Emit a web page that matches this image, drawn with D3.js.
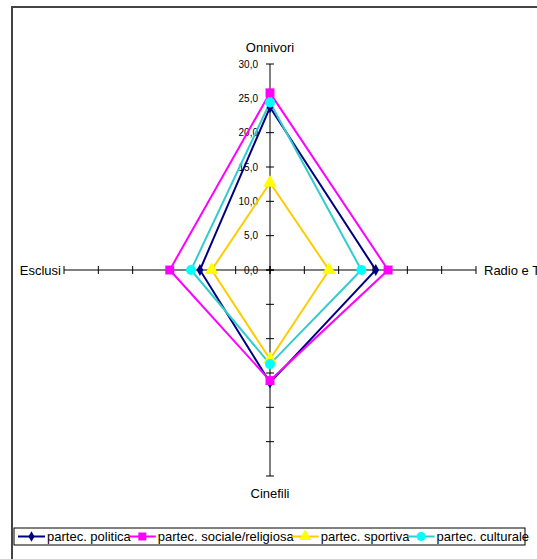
<!DOCTYPE html>
<html>
<head>
<meta charset="utf-8">
<script src="https://cdn.jsdelivr.net/npm/d3@7"></script>
<style>
  body { margin: 0; background: #fff; }
  svg { font-family: "Liberation Sans", Arial, sans-serif; }
</style>
</head>
<body>
<div id="chart"></div>
<script>
// axes, clockwise from the top
const axes = ["Onnivori", "Radio e TV", "Cinefili", "Esclusi"];
const seriesNames = ["partec. politica", "partec. sociale/religiosa", "partec. sportiva", "partec. culturale"];
const politica = [23.7, 15.4, 16.4, 10.2];
const sociale = [25.8, 17.2, 16.1, 14.6];
const sportiva = [12.7, 8.6, 13.0, 8.5];
const culturale = [24.4, 13.3, 13.7, 11.5];
const tickValues = [0, 5, 10, 15, 20, 25, 30];

const seriesValues = [politica, sociale, sportiva, culturale];
const lineColors = ["#000080", "#ff00ff", "#ffcc00", "#33cccc"];
const markerColors = ["#000080", "#ff00ff", "#ffff00", "#00ffff"];
const markerTypes = [d3.symbolDiamond, d3.symbolSquare, d3.symbolTriangle, d3.symbolCircle];
const markerSizes = [40, 80, 80, 80];

const width = 537, height = 559;
const cx = 270, cy = 270;

const svg = d3.select("#chart").append("svg")
  .attr("width", width)
  .attr("height", height);

// frame of the chart area (only left and top visible)
svg.append("path")
  .attr("d", `M12,${height} L12,7 L${width},7`)
  .attr("fill", "none")
  .attr("stroke", "#444")
  .attr("stroke-width", 2);

const r = d3.scaleLinear().domain([0, 30]).range([0, 206]);
const angle = d3.scaleOrdinal().domain(axes).range([0, Math.PI / 2, Math.PI, 3 * Math.PI / 2]);

const g = svg.append("g").attr("transform", `translate(${cx},${cy})`);

// axis lines and tick marks
axes.forEach(a => {
  const ang = angle(a);
  const dx = Math.sin(ang), dy = -Math.cos(ang);
  g.append("line")
    .attr("x1", 0).attr("y1", 0)
    .attr("x2", dx * r(30)).attr("y2", dy * r(30))
    .attr("stroke", "#000").attr("stroke-width", 1);
  g.append("g").selectAll("line")
    .data(tickValues)
    .join("line")
    .attr("x1", d => dx * r(d) - dy * 4)
    .attr("y1", d => dy * r(d) - dx * 4)
    .attr("x2", d => dx * r(d) + dy * 4)
    .attr("y2", d => dy * r(d) + dx * 4)
    .attr("stroke", "#000").attr("stroke-width", 1);
});

// tick labels on the top axis
g.append("g").selectAll("text")
  .data(tickValues)
  .join("text")
  .attr("x", -12)
  .attr("y", d => -r(d))
  .attr("dy", "0.35em")
  .attr("text-anchor", "end")
  .style("font-size", "10px")
  .text(d => d3.format(".1f")(d).replace(".", ","));

// axis names
const labelPos = {
  "Onnivori": {x: 0, y: -r(30) - 12, anchor: "middle"},
  "Radio e TV": {x: r(30) + 8, y: 4.5, anchor: "start"},
  "Cinefili": {x: 0, y: r(30) + 22, anchor: "middle"},
  "Esclusi": {x: -r(30) - 3, y: 4.5, anchor: "end"}
};
axes.forEach(a => {
  g.append("text")
    .attr("x", labelPos[a].x)
    .attr("y", labelPos[a].y)
    .attr("text-anchor", labelPos[a].anchor)
    .style("font-size", "13px")
    .text(a);
});

const line = d3.lineRadial()
  .angle((d, i) => angle(axes[i]))
  .radius(d => r(d))
  .curve(d3.curveLinearClosed);

seriesValues.forEach((vals, s) => {
  g.append("path")
    .attr("d", line(vals))
    .attr("fill", "none")
    .attr("stroke", lineColors[s])
    .attr("stroke-width", 2);
});

seriesValues.forEach((vals, s) => {
  g.append("g").selectAll("path")
    .data(vals)
    .join("path")
    .attr("transform", (d, i) => {
      const ang = angle(axes[i]);
      return `translate(${Math.sin(ang) * r(d)},${-Math.cos(ang) * r(d)})`;
    })
    .attr("d", d3.symbol().type(markerTypes[s]).size(markerSizes[s]))
    .attr("fill", markerColors[s]);
});

// legend
const legend = svg.append("g");
legend.append("rect")
  .attr("x", 14).attr("y", 528)
  .attr("width", 511).attr("height", 17)
  .attr("fill", "#fff")
  .attr("stroke", "#000").attr("stroke-width", 1);

let lx = 18;
seriesNames.forEach((name, s) => {
  const item = legend.append("g");
  item.append("line")
    .attr("x1", lx).attr("x2", lx + 27)
    .attr("y1", 536.5).attr("y2", 536.5)
    .attr("stroke", lineColors[s]).attr("stroke-width", 2);
  item.append("path")
    .attr("transform", `translate(${lx + 13.5},536.5)`)
    .attr("d", d3.symbol().type(markerTypes[s]).size(markerSizes[s] * 0.8))
    .attr("fill", markerColors[s]);
  const t = item.append("text")
    .attr("x", lx + 29)
    .attr("y", 541)
    .style("font-size", "13px")
    .text(name);
  lx += 27 + t.node().getComputedTextLength();
});
</script>
</body>
</html>
